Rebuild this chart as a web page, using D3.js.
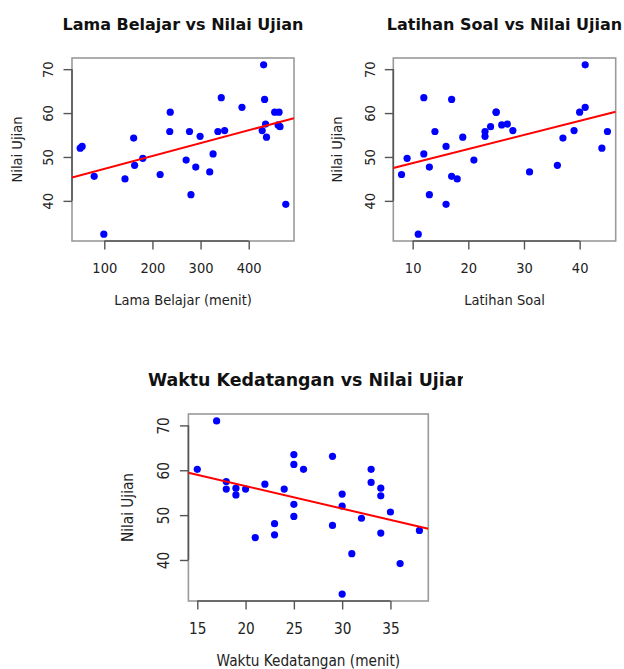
<!DOCTYPE html>
<html>
<head>
<meta charset="utf-8">
<script src="https://cdn.jsdelivr.net/npm/d3@7"></script>
<style>
html,body{margin:0;padding:0;background:#fff;}
svg{display:block;}
.lab{font-family:"DejaVu Sans Condensed","DejaVu Sans",sans-serif;font-stretch:condensed;fill:#222;}
.ttl{font-family:"DejaVu Sans",sans-serif;font-weight:bold;fill:#111;}
</style>
</head>
<body>
<script>
// ---- data ----
const nilaiUjian   = [71.0, 63.5, 63.1, 61.3, 60.2, 60.2, 60.2, 57.5, 57.3, 56.9, 56.0, 56.0, 55.8, 55.8, 55.8, 54.7, 54.5, 54.3, 52.4, 52.0, 50.7, 49.7, 49.3, 48.1, 47.7, 46.6, 46.0, 45.6, 45.0, 41.4, 39.2, 32.4];
const lamaBelajar  = [431, 343, 433, 386, 237, 454, 463, 435, 461, 465, 350, 428, 236, 277, 336, 299, 437, 161, 54, 50, 326, 180, 270, 163, 290, 319, 216, 79, 143, 280, 477, 99];
const latihanSoal  = [41, 12, 17, 41, 25, 40, 25, 27, 26, 24, 28, 39, 14, 23, 45, 23, 19, 37, 16, 44, 12, 9, 21, 36, 13, 31, 8, 17, 18, 13, 16, 11];
const waktuDatang  = [17, 25, 29, 25, 15, 26, 33, 18, 33, 22, 19, 34, 18, 20, 24, 30, 19, 34, 25, 30, 35, 25, 32, 23, 29, 38, 34, 23, 21, 31, 36, 30];

const titles  = ["Lama Belajar vs Nilai Ujian", "Latihan Soal vs Nilai Ujian", "Waktu Kedatangan vs Nilai Ujian"];
const xLabels = ["Lama Belajar (menit)", "Latihan Soal", "Waktu Kedatangan (menit)"];
const yLabel  = "Nilai Ujian";
const xTicks1 = [100, 200, 300, 400];
const xTicks2 = [10, 20, 30, 40];
const xTicks3 = [15, 20, 25, 30, 35];
const yTicks  = [40, 50, 60, 70];

// ---- layout ----
const panels = [
  {x: lamaBelajar, xt: xTicks1, box: [72, 294, 58, 241], fs: 14.5, tfs: 16, tb: 30, tlb: 273, xlb: 305, ytb: 53.3, ylb: 21.5, clip: null},
  {x: latihanSoal, xt: xTicks2, box: [393.3, 615.7, 58, 241], fs: 14.5, tfs: 16, tb: 30, tlb: 273, xlb: 305, ytb: 375, ylb: 342, clip: null},
  {x: waktuDatang, xt: xTicks3, box: [188.4, 428.3, 414, 601], fs: 15.2, tfs: 17.4, tb: 386, tlb: 634, xlb: 666, ytb: 169.3, ylb: 133, clip: 463}
];

const W = 624, H = 669;
const svg = d3.select("body").append("svg").attr("width", W).attr("height", H);

function padded(arr) {
  const [a, b] = d3.extent(arr);
  const p = (b - a) * 0.04;
  return [a - p, b + p];
}

panels.forEach((p, i) => {
  const [x0, x1, y0, y1] = p.box;
  const xs = d3.scaleLinear().domain(padded(p.x)).range([x0, x1]);
  const ys = d3.scaleLinear().domain(padded(nilaiUjian)).range([y1, y0]);
  const g = svg.append("g");

  // title (possibly clipped)
  const clipId = "tclip" + i;
  if (p.clip) {
    svg.append("clipPath").attr("id", clipId).attr("clipPathUnits", "userSpaceOnUse")
      .append("rect").attr("x", 0).attr("y", 0).attr("width", p.clip).attr("height", H);
  }
  const tg = g.append("g").attr("clip-path", p.clip ? `url(#${clipId})` : null);
  tg.append("text").attr("class", "ttl")
    .attr("x", (x0 + x1) / 2).attr("y", p.tb)
    .attr("text-anchor", "middle").attr("font-size", p.tfs)
    .text(titles[i]);

  // box
  g.append("rect").attr("x", x0).attr("y", y0).attr("width", x1 - x0).attr("height", y1 - y0)
    .attr("fill", "none").attr("stroke", "#9a9a9a").attr("stroke-width", 1.6);

  // bottom axis
  const xa = d3.axisBottom(xs).tickValues(p.xt).tickSize(8.5).tickPadding(0).tickFormat(d3.format("d"));
  const gx = g.append("g").attr("transform", `translate(0,${y1})`).call(xa);
  gx.select(".domain").remove();
  gx.selectAll(".tick line").attr("stroke", "#555").attr("stroke-width", 1.4);
  gx.selectAll(".tick text").attr("class", "lab").attr("font-size", p.fs)
    .attr("y", p.tlb - y1).attr("dy", null);
  gx.append("line").attr("x1", xs(p.xt[0])).attr("x2", xs(p.xt[p.xt.length - 1]))
    .attr("stroke", "#555").attr("stroke-width", 1.6);

  // left axis
  const ya = d3.axisLeft(ys).tickValues(yTicks).tickSize(8.5).tickPadding(0).tickFormat(d3.format("d"));
  const gy = g.append("g").attr("transform", `translate(${x0},0)`).call(ya);
  gy.select(".domain").remove();
  gy.selectAll(".tick line").attr("stroke", "#555").attr("stroke-width", 1.4);
  gy.selectAll(".tick text").attr("class", "lab").attr("font-size", p.fs)
    .attr("x", null).attr("dy", null)
    .attr("text-anchor", "middle")
    .attr("transform", `translate(${p.ytb - x0},0) rotate(-90)`);
  gy.append("line").attr("y1", ys(yTicks[0])).attr("y2", ys(yTicks[yTicks.length - 1]))
    .attr("stroke", "#555").attr("stroke-width", 1.6);

  // axis titles
  g.append("text").attr("class", "lab").attr("font-size", p.fs)
    .attr("x", (x0 + x1) / 2).attr("y", p.xlb).attr("text-anchor", "middle").text(xLabels[i]);
  g.append("text").attr("class", "lab").attr("font-size", p.fs)
    .attr("text-anchor", "middle")
    .attr("transform", `translate(${p.ylb},${(y0 + y1) / 2}) rotate(-90)`).text(yLabel);

  // points
  const pts = p.x.map((v, k) => [v, nilaiUjian[k]]);
  g.append("g").selectAll("circle").data(pts).join("circle")
    .attr("cx", d => xs(d[0])).attr("cy", d => ys(d[1])).attr("r", 3.6).attr("fill", "#0000ff");

  // least-squares regression line across plot region
  const mx = d3.mean(p.x), my = d3.mean(nilaiUjian);
  const sxy = d3.sum(pts, d => (d[0] - mx) * (d[1] - my));
  const sxx = d3.sum(pts, d => (d[0] - mx) ** 2);
  const b = sxy / sxx, a = my - b * mx;
  const cid = "pclip" + i;
  svg.append("clipPath").attr("id", cid).append("rect")
    .attr("x", x0).attr("y", y0).attr("width", x1 - x0).attr("height", y1 - y0);
  const [d0, d1] = xs.domain();
  g.append("line").attr("clip-path", `url(#${cid})`)
    .attr("x1", xs(d0)).attr("y1", ys(a + b * d0))
    .attr("x2", xs(d1)).attr("y2", ys(a + b * d1))
    .attr("stroke", "#ff0000").attr("stroke-width", 2);
});
</script>
</body>
</html>
